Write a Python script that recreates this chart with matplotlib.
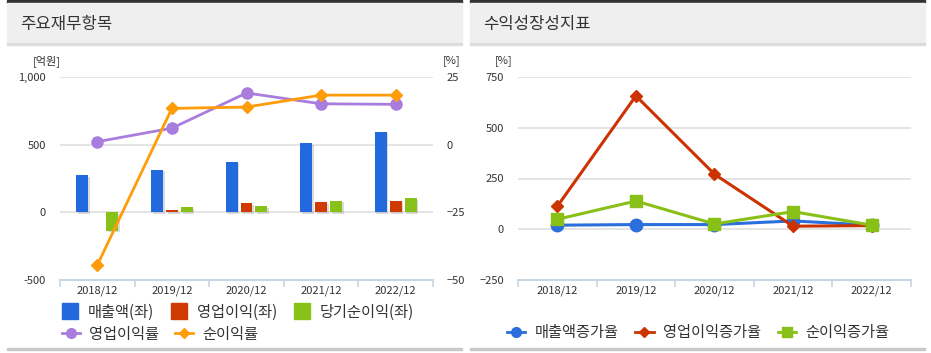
import numpy as np
import matplotlib
matplotlib.use("Agg")
import matplotlib.pyplot as plt
from matplotlib.lines import Line2D
from matplotlib.patches import Rectangle
import matplotlib.patheffects as pe

plt.rcParams['font.family'] = ['Noto Sans CJK KR', 'DejaVu Sans']

# 데이터
years = ["2018/12", "2019/12", "2020/12", "2021/12", "2022/12"]

매출액 = [276, 315, 374, 513, 596]
영업이익 = [3, 17, 69, 76, 86]
당기순이익 = [-135, 37, 47, 86, 106]
영업이익률 = [1.1, 6.1, 19.1, 15.1, 14.9]
순이익률 = [-44.5, 13.4, 13.9, 18.3, 18.3]

매출액증가율 = [20, 23, 23, 41, 20]
영업이익증가율 = [113, 657, 271, 15, 18]
순이익증가율 = [49, 139, 26, 87, 20]

W, H = 931, 353
fig = plt.figure(figsize=(W / 100, H / 100), dpi=100)


def fx(px):
    return px / W


def fy(py):
    return 1 - py / H


TXT = "#333333"
GRID = "#e2e2e2"
SPINE = "#c9d5e3"


def panel(x0, x1, title):
    # 상단 헤더
    fig.patches.append(Rectangle((fx(x0), fy(3)), fx(x1 - x0), 3 / H,
                                 transform=fig.transFigure, color="#333333", zorder=0))
    fig.patches.append(Rectangle((fx(x0), fy(43)), fx(x1 - x0), 40 / H,
                                 transform=fig.transFigure, color="#efefef", zorder=0))
    fig.patches.append(Rectangle((fx(x0), fy(44.5)), fx(x1 - x0), 1.5 / H,
                                 transform=fig.transFigure, color="#dddddd", zorder=0))
    fig.patches.append(Rectangle((fx(x0), fy(350)), fx(x1 - x0), 2 / H,
                                 transform=fig.transFigure, color="#c8c8c8", zorder=0))
    fig.text(fx(x0 + 13), fy(24), title, fontsize=12, color=TXT, va="center", ha="left")


panel(7, 462, "주요재무항목")
panel(470, 925, "수익성장성지표")


def style_axes(ax):
    ax.set_xlim(-0.5, 4.5)
    for s in ["top", "right", "left"]:
        ax.spines[s].set_visible(False)
    ax.spines["bottom"].set_color(SPINE)
    ax.spines["bottom"].set_linewidth(1.5)
    ax.set_xticks(np.arange(-0.5, 5, 1), minor=False)
    ax.set_xticklabels([])
    ax.tick_params(axis="x", which="major", length=5, color=SPINE, width=1.2)
    ax.set_xticks(range(5), minor=True)
    ax.set_xticklabels(years, minor=True)
    ax.tick_params(axis="x", which="minor", length=0, labelsize=8, labelcolor=TXT, pad=4)
    ax.tick_params(axis="y", length=0, labelsize=8, labelcolor=TXT, pad=10)
    ax.grid(axis="y", color=GRID, lw=1.3)
    ax.set_axisbelow(True)


# ---- 왼쪽: 주요재무항목
ax = fig.add_axes([fx(60), fy(280), fx(373), (280 - 77) / H])
style_axes(ax)
ax.set_ylim(-500, 1000)
ax.set_yticks([-500, 0, 500, 1000])
ax.set_yticklabels(["-500", "0", "500", "1,000"])
ax.yaxis.get_gridlines()[0].set_visible(False)

x = np.arange(len(years))
bw = 0.16
shadow = [pe.SimplePatchShadow(offset=(1.2, -1.2), shadow_rgbFace="#999999", alpha=0.35), pe.Normal()]
ax.bar(x - 0.2, 매출액, bw, color="#2169dd", path_effects=shadow, zorder=2)
ax.bar(x, 영업이익, bw, color="#cf3a02", path_effects=shadow, zorder=2)
ax.bar(x + 0.2, 당기순이익, bw, color="#88c218", path_effects=shadow, zorder=2)

ax2 = ax.twinx()
ax2.set_ylim(-50, 25)
ax2.set_yticks([-50, -25, 0, 25])
for s in ["top", "right", "left", "bottom"]:
    ax2.spines[s].set_visible(False)
ax2.tick_params(axis="y", length=0, labelsize=8, labelcolor=TXT, pad=10)
ax2.plot(x, 영업이익률, color="#a97ddd", lw=2, marker="o", ms=8, zorder=3)
ax2.plot(x, 순이익률, color="#ff9c0a", lw=2, marker="D", ms=6, zorder=4)

fig.text(fx(47), fy(61), "[억원]", fontsize=8, color=TXT, ha="center", va="center")
fig.text(fx(443), fy(61), "[%]", fontsize=8, color=TXT, ha="left", va="center")

sq = dict(marker="s", ls="none", ms=11)
h1 = [Line2D([], [], color="#2169dd", **sq),
      Line2D([], [], color="#cf3a02", **sq),
      Line2D([], [], color="#88c218", **sq)]
fig.legend(h1, ["매출액(좌)", "영업이익(좌)", "당기순이익(좌)"], ncol=3,
           loc="center left", bbox_to_anchor=(fx(61), fy(312)), frameon=False,
           fontsize=11, labelcolor=TXT, handlelength=1.2, handletextpad=0.55,
           columnspacing=1.05, borderpad=0, borderaxespad=0)
h2 = [Line2D([], [], color="#a97ddd", lw=2, marker="o", ms=7),
      Line2D([], [], color="#ff9c0a", lw=2, marker="D", ms=5)]
fig.legend(h2, ["영업이익률", "순이익률"], ncol=2,
           loc="center left", bbox_to_anchor=(fx(62), fy(334)), frameon=False,
           fontsize=11, labelcolor=TXT, handlelength=1.2, handletextpad=0.6,
           columnspacing=1.0, borderpad=0, borderaxespad=0)

# ---- 오른쪽: 수익성장성지표
bx = fig.add_axes([fx(518), fy(280), fx(393), (280 - 77) / H])
style_axes(bx)
bx.set_ylim(-250, 750)
bx.set_yticks([-250, 0, 250, 500, 750])
bx.yaxis.get_gridlines()[0].set_visible(False)

bx.plot(x, 매출액증가율, color="#2a6fdb", lw=2.2, marker="o", ms=9, zorder=3)
bx.plot(x, 영업이익증가율, color="#cc3300", lw=2.2, marker="D", ms=6.5, zorder=4)
bx.plot(x, 순이익증가율, color="#88c018", lw=2.2, marker="s", ms=9, zorder=5)
fig.text(fx(495), fy(61), "[%]", fontsize=8, color=TXT, ha="left", va="center")

h3 = [Line2D([], [], color="#2a6fdb", lw=2, marker="o", ms=7),
      Line2D([], [], color="#cc3300", lw=2, marker="D", ms=5),
      Line2D([], [], color="#88c018", lw=2, marker="s", ms=7)]
fig.legend(h3, ["매출액증가율", "영업이익증가율", "순이익증가율"], ncol=3,
           loc="center left", bbox_to_anchor=(fx(507), fy(333)), frameon=False,
           fontsize=11, labelcolor=TXT, handlelength=1.2, handletextpad=0.6,
           columnspacing=1.1, borderpad=0, borderaxespad=0)

fig.savefig("out.png", dpi=100)
